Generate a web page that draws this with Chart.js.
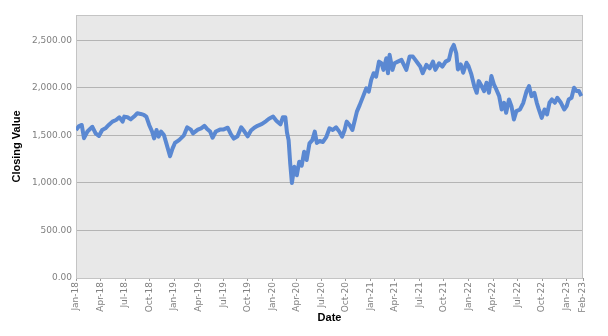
<!DOCTYPE html>
<html lang="en">

<head>
  <meta charset="UTF-8">
  <title>Closing Value</title>
  <script src="https://cdn.jsdelivr.net/npm/chart.js"></script>
  <style>
    body {
      margin: 0;
      padding: 0;
      background: #ffffff;
    }

    #wrap {
      width: 608px;
      height: 336px;
    }
  </style>
</head>

<body>
  <div id="wrap">
    <canvas id="closingChart" width="608" height="336"></canvas>
  </div>

  <script>
    // months since Jan 2018 and closing values
    const monthOffsets = [
      0.0, 0.37, 0.7, 0.98, 1.4, 2.0, 2.4, 2.8, 3.2, 3.6, 4.0, 4.45, 4.9, 5.3, 5.7, 5.9, 6.3, 6.7, 7.1, 7.5,
      7.9, 8.3, 8.6, 8.95, 9.3, 9.55, 9.85, 10.1, 10.4, 10.75, 11.05, 11.5, 11.8, 12.1, 12.6, 13.2, 13.6, 14.05, 14.3, 14.9,
      15.3, 15.7, 16.0, 16.4, 16.7, 17.1, 17.6, 18.0, 18.55, 18.95, 19.3, 19.75, 20.2, 20.6, 21.0, 21.4, 21.8, 22.2, 22.75, 23.25,
      23.6, 24.1, 24.5, 25.0, 25.3, 25.6, 25.8, 26.0, 26.2, 26.4, 26.7, 27.0, 27.3, 27.6, 27.9, 28.2, 28.55, 28.9, 29.2, 29.45,
      29.8, 30.2, 30.6, 31.0, 31.4, 31.8, 32.2, 32.55, 32.85, 33.1, 33.45, 33.8, 34.1, 34.35, 34.7, 35.1, 35.5, 35.8, 36.1, 36.4,
      36.7, 37.05, 37.35, 37.6, 37.95, 38.15, 38.35, 38.7, 38.95, 39.35, 39.8, 40.1, 40.4, 40.8, 41.2, 41.5, 41.8, 42.1, 42.4, 42.85,
      43.25, 43.65, 43.95, 44.4, 44.8, 45.2, 45.6, 45.9, 46.2, 46.5, 46.7, 47.05, 47.35, 47.75, 48.0, 48.35, 48.7, 49.0, 49.25, 49.6,
      49.9, 50.2, 50.5, 50.8, 51.1, 51.4, 51.75, 52.05, 52.35, 52.6, 52.95, 53.25, 53.55, 53.85, 54.3, 54.7, 55.1, 55.4, 55.7, 56.05,
      56.35, 56.6, 56.95, 57.3, 57.6, 57.9, 58.2, 58.55, 58.85, 59.3, 59.7, 60.0, 60.25, 60.6, 60.9, 61.2, 61.5, 61.8
    ];
    const closingValues = [
      1556, 1598, 1609, 1470, 1540, 1590, 1520, 1493, 1556, 1574, 1609, 1644, 1661, 1690, 1644, 1697, 1690, 1668, 1697, 1732,
      1725, 1714, 1697, 1609, 1540, 1468, 1556, 1486, 1540, 1504, 1416, 1280, 1360, 1420, 1450, 1500, 1584, 1560, 1520, 1560,
      1574, 1600, 1570, 1540, 1475, 1540, 1560, 1560, 1580, 1510, 1465, 1490, 1584, 1540, 1490, 1550, 1580, 1600, 1620, 1650,
      1675, 1697, 1654, 1615, 1690, 1690, 1530, 1450, 1200, 1000, 1170, 1080, 1223, 1180, 1328, 1240, 1416, 1450, 1539, 1420,
      1440, 1430, 1480, 1574, 1556, 1584, 1539, 1486, 1556, 1644, 1609, 1556, 1661, 1749, 1820, 1907, 1995, 1960, 2083, 2153,
      2118, 2275, 2258, 2188, 2311, 2153, 2346, 2188, 2258, 2275, 2293, 2240, 2188, 2328, 2328, 2293, 2258, 2223, 2153, 2240,
      2205, 2275, 2188, 2258, 2223, 2275, 2293, 2400, 2450, 2363, 2193, 2246, 2158, 2263, 2228, 2140, 2018, 1947, 2070, 2018,
      1965, 2053, 1947, 2123, 2035, 1982, 1912, 1772, 1842, 1737, 1877, 1807, 1667, 1754, 1772, 1842, 1965, 2018, 1912, 1947,
      1842, 1772, 1684, 1772, 1719, 1842, 1877, 1842, 1895, 1842, 1772, 1807, 1877, 1895, 2000, 1965, 1965, 1912
    ];

    const tickLabels = [
      'Jan-18', 'Apr-18', 'Jul-18', 'Oct-18', 'Jan-19', 'Apr-19', 'Jul-19', 'Oct-19', 'Jan-20', 'Apr-20', 'Jul-20',
      'Oct-20', 'Jan-21', 'Apr-21', 'Jul-21', 'Oct-21', 'Jan-22', 'Apr-22', 'Jul-22', 'Oct-22', 'Jan-23', 'Feb-23'
    ];
    const tickMonths = [0, 3, 6, 9, 12, 15, 18, 21, 24, 27, 30, 33, 36, 39, 42, 45, 48, 51, 54, 57, 60, 62];
    const yTicks = [0, 500, 1000, 1500, 2000, 2500];

    const points = monthOffsets.map((m, i) => ({ x: m, y: closingValues[i] }));

    // grey plot background plus a thin frame round the plot area
    const plotFrame = {
      id: 'plotFrame',
      beforeDraw(chart) {
        const { ctx, chartArea: a } = chart;
        ctx.save();
        ctx.fillStyle = '#e8e8e8';
        ctx.fillRect(a.left, a.top, a.right - a.left, a.bottom - a.top);
        ctx.restore();
      },
      beforeDatasetsDraw(chart) {
        const { ctx, chartArea: a } = chart;
        ctx.save();
        ctx.strokeStyle = '#c4c4c4';
        ctx.lineWidth = 1;
        ctx.strokeRect(a.left + 0.5, a.top + 0.5, a.right - a.left - 1, a.bottom - a.top);
        ctx.restore();
      }
    };

    const tickFont = { family: 'DejaVu Sans', size: 9 };
    const titleFont = { family: 'Liberation Sans', size: 11, weight: 'bold' };

    new Chart(document.getElementById('closingChart'), {
      type: 'line',
      data: {
        datasets: [{
          label: 'Closing Value',
          data: points,
          borderColor: '#5a88d2',
          borderWidth: 4,
          borderJoinStyle: 'round',
          pointRadius: 0,
          tension: 0,
          fill: false
        }]
      },
      options: {
        responsive: false,
        animation: false,
        layout: { padding: { top: 15, right: 25, bottom: 0, left: 0 } },
        plugins: {
          legend: { display: false },
          tooltip: { enabled: false }
        },
        scales: {
          x: {
            type: 'linear',
            min: 0,
            max: 62,
            afterBuildTicks: (scale) => {
              scale.ticks = tickMonths.map(v => ({ value: v }));
            },
            afterFit: (scale) => {
              scale.height = 58;
            },
            ticks: {
              autoSkip: false,
              minRotation: 90,
              maxRotation: 90,
              padding: 1,
              color: '#808080',
              font: tickFont,
              callback: (value, index) => tickLabels[index]
            },
            grid: {
              drawOnChartArea: false,
              drawTicks: true,
              tickLength: 3,
              color: '#999999'
            },
            border: { display: true, color: '#999999' },
            title: {
              display: true,
              text: 'Date',
              color: '#000000',
              font: titleFont,
              padding: { top: 0, bottom: 11 }
            }
          },
          y: {
            min: 0,
            max: 2765,
            afterBuildTicks: (scale) => {
              scale.ticks = yTicks.map(v => ({ value: v }));
            },
            afterFit: (scale) => {
              scale.width = 76;
            },
            ticks: {
              padding: 4,
              color: '#808080',
              font: tickFont,
              callback: (value) => value.toLocaleString('en-US', { minimumFractionDigits: 2, maximumFractionDigits: 2 })
            },
            grid: {
              drawTicks: false,
              color: '#b4b4b4'
            },
            border: { display: true, color: '#888888' },
            title: {
              display: true,
              text: 'Closing Value',
              color: '#000000',
              font: titleFont,
              padding: { top: 10, bottom: 0 }
            }
          }
        }
      },
      plugins: [plotFrame]
    });
  </script>
</body>

</html>
